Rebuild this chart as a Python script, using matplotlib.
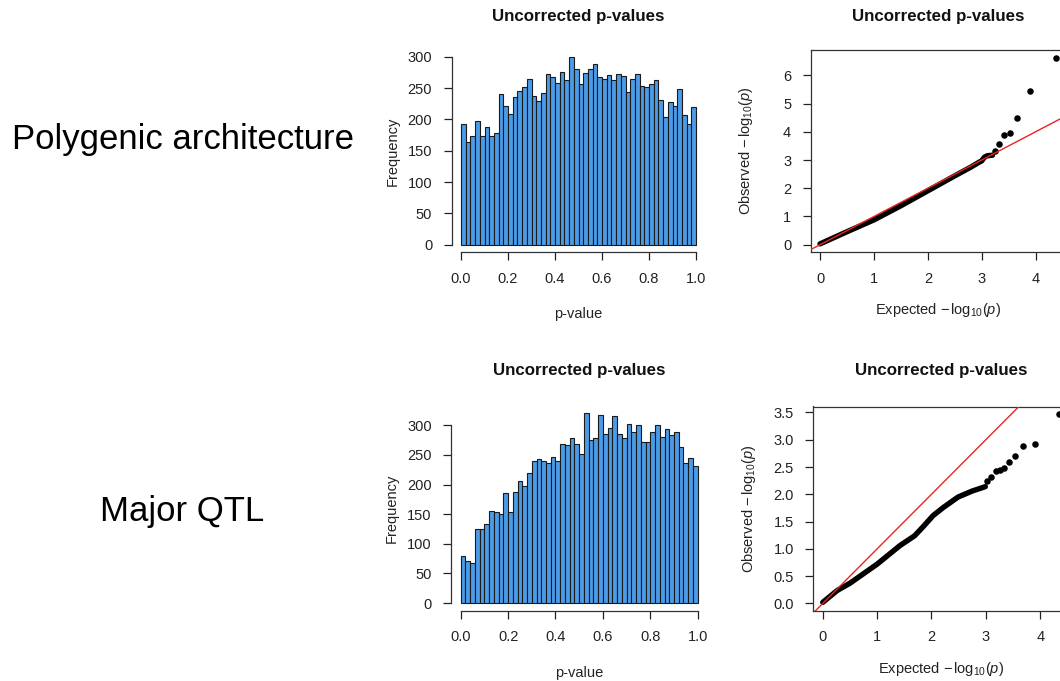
import numpy as np
import matplotlib
matplotlib.use("Agg")
import matplotlib.pyplot as plt

# ==================== DADOS ====================
bin_edges = np.linspace(0, 1, 51)

counts_poly = [193, 164, 173, 198, 174, 187, 174, 179, 241, 221,
               208, 235, 246, 251, 265, 238, 229, 242, 273, 268,
               258, 276, 262, 299, 280, 257, 274, 280, 288, 268,
               265, 270, 262, 273, 269, 244, 264, 272, 253, 251,
               256, 262, 231, 203, 228, 222, 248, 207, 192, 219]

counts_qtl = [80, 71, 68, 125, 125, 134, 155, 154, 151, 185,
              154, 187, 206, 198, 219, 239, 243, 239, 237, 247,
              239, 268, 266, 278, 269, 251, 320, 276, 279, 317,
              285, 295, 315, 285, 278, 302, 288, 301, 272, 272,
              289, 301, 280, 293, 283, 288, 264, 237, 244, 231]

# QQ: corpo denso + pontos isolados da cauda
qq_poly_exp = [0.0, 0.5, 1.0, 1.5, 2.0, 2.5, 2.8, 2.95, 3.0, 3.05, 3.1, 3.2]
qq_poly_obs = [0.03, 0.46, 0.88, 1.38, 1.91, 2.44, 2.75, 2.92, 2.97, 3.10, 3.15, 3.17]
tail_poly_exp = [3.25, 3.32, 3.41, 3.52, 3.66, 3.89, 4.37]
tail_poly_obs = [3.32, 3.55, 3.88, 3.94, 4.47, 5.43, 6.62]

qq_qtl_exp = [0.0, 0.27, 0.5, 1.0, 1.42, 1.69, 1.85, 2.03, 2.22, 2.49, 2.75, 2.99]
qq_qtl_obs = [0.02, 0.24, 0.37, 0.72, 1.06, 1.24, 1.41, 1.61, 1.76, 1.95, 2.06, 2.14]
tail_qtl_exp = [3.03, 3.09, 3.18, 3.26, 3.34, 3.42, 3.54, 3.68, 3.90, 4.35]
tail_qtl_obs = [2.25, 2.32, 2.42, 2.45, 2.48, 2.60, 2.71, 2.89, 2.93, 3.47]

# ==================== ESTILO ====================
plt.rcParams['font.family'] = ['Liberation Sans', 'DejaVu Sans']
plt.rcParams['mathtext.fontset'] = 'custom'
plt.rcParams['mathtext.rm'] = 'Liberation Sans'
plt.rcParams['mathtext.it'] = 'Liberation Sans:italic'
plt.rcParams['font.size'] = 10.5

W, H = 1060, 681
fig = plt.figure(figsize=(W / 100, H / 100), dpi=100)


def caixa(l, t, r, b):
    return [l / W, 1 - b / H, (r - l) / W, (b - t) / H]


def eixo_r(ax):
    ax.tick_params(direction='out', length=6, width=0.9, pad=8, colors='#222222', labelsize=10.5)


def histograma(rect, counts, ymax, titulo_y):
    ax = fig.add_axes(rect)
    ax.hist(bin_edges[:-1], bins=bin_edges, weights=counts,
            color='#4a9ce8', edgecolor='#1a1a1a', linewidth=0.8)
    top = max(counts)
    ax.set_xlim(-0.04, 1.04)
    ax.set_ylim(-0.04 * top, 1.04 * top)
    ax.set_xticks([0, 0.2, 0.4, 0.6, 0.8, 1.0])
    ax.set_xticklabels(['0.0', '0.2', '0.4', '0.6', '0.8', '1.0'])
    ax.set_yticks(range(0, ymax + 1, 50))
    for s in ['top', 'right']:
        ax.spines[s].set_visible(False)
    ax.spines['left'].set_bounds(0, ymax)
    ax.spines['bottom'].set_bounds(0, 1)
    for s in ['left', 'bottom']:
        ax.spines[s].set_color('#333333')
        ax.spines[s].set_linewidth(0.9)
    eixo_r(ax)
    ax.set_xlabel('p-value', fontsize=10.5, color='#222222')
    ax.set_ylabel('Frequency', fontsize=10.5, color='#222222')
    ax.xaxis.set_label_coords(0.5, -0.27)
    ax.yaxis.set_label_coords(-0.203, 0.5)
    fig.text((rect[0] + rect[2] / 2), 1 - titulo_y / H, 'Uncorrected p-values',
             ha='center', va='center', fontsize=12.2, fontweight='bold', color='#111111')
    return ax


def qqplot(rect, xs, ys, tx, ty, yticks, ylabels, titulo_y):
    ax = fig.add_axes(rect)
    xmax = max(tx)
    ymax = max(ty)
    ax.set_xlim(-0.04 * xmax, 1.04 * xmax)
    ax.set_ylim(-0.04 * ymax, 1.04 * ymax)
    ax.plot(xs, ys, color='black', linewidth=3.9, solid_capstyle='round',
            solid_joinstyle='round', zorder=2)
    ax.scatter(tx, ty, s=22, color='black', zorder=3, linewidths=0)
    ax.axline((0, 0), slope=1, color='#ee2222', linewidth=1.0, zorder=4)
    ax.set_xticks([0, 1, 2, 3, 4])
    ax.set_yticks(yticks)
    ax.set_yticklabels(ylabels)
    for s in ax.spines.values():
        s.set_color('#333333')
        s.set_linewidth(0.9)
    eixo_r(ax)
    ax.set_xlabel(r'Expected $-\,\mathrm{log}_{10}(\mathit{p})$', fontsize=10.5, color='#222222')
    ax.set_ylabel(r'Observed $-\,\mathrm{log}_{10}(\mathit{p})$', fontsize=10.5, color='#222222')
    ax.xaxis.set_label_coords(0.5, -0.242)
    ax.yaxis.set_label_coords(-0.218, 0.5)
    fig.text((rect[0] + rect[2] / 2), 1 - titulo_y / H, 'Uncorrected p-values',
             ha='center', va='center', fontsize=12.2, fontweight='bold', color='#111111')
    return ax


histograma(caixa(451.6, 49.8, 705.4, 252.2), counts_poly, 300, 16)
histograma(caixa(451.2, 405.9, 707.2, 610.6), counts_qtl, 300, 371)

qqplot(caixa(810.6, 50.3, 1065.0, 252.2), qq_poly_exp, qq_poly_obs,
       tail_poly_exp, tail_poly_obs, [0, 1, 2, 3, 4, 5, 6],
       ['0', '1', '2', '3', '4', '5', '6'], 16)
qqplot(caixa(813.3, 406.5, 1068.7, 611.0), qq_qtl_exp, qq_qtl_obs,
       tail_qtl_exp, tail_qtl_obs, [0, 0.5, 1, 1.5, 2, 2.5, 3, 3.5],
       ['0.0', '0.5', '1.0', '1.5', '2.0', '2.5', '3.0', '3.5'], 371)

fig.text(183 / W, 1 - 140 / H, 'Polygenic architecture', ha='center', va='center',
         fontsize=25, color='black')
fig.text(182 / W, 1 - 512 / H, 'Major QTL', ha='center', va='center',
         fontsize=25, color='black')

fig.savefig('out.png', dpi=100)
